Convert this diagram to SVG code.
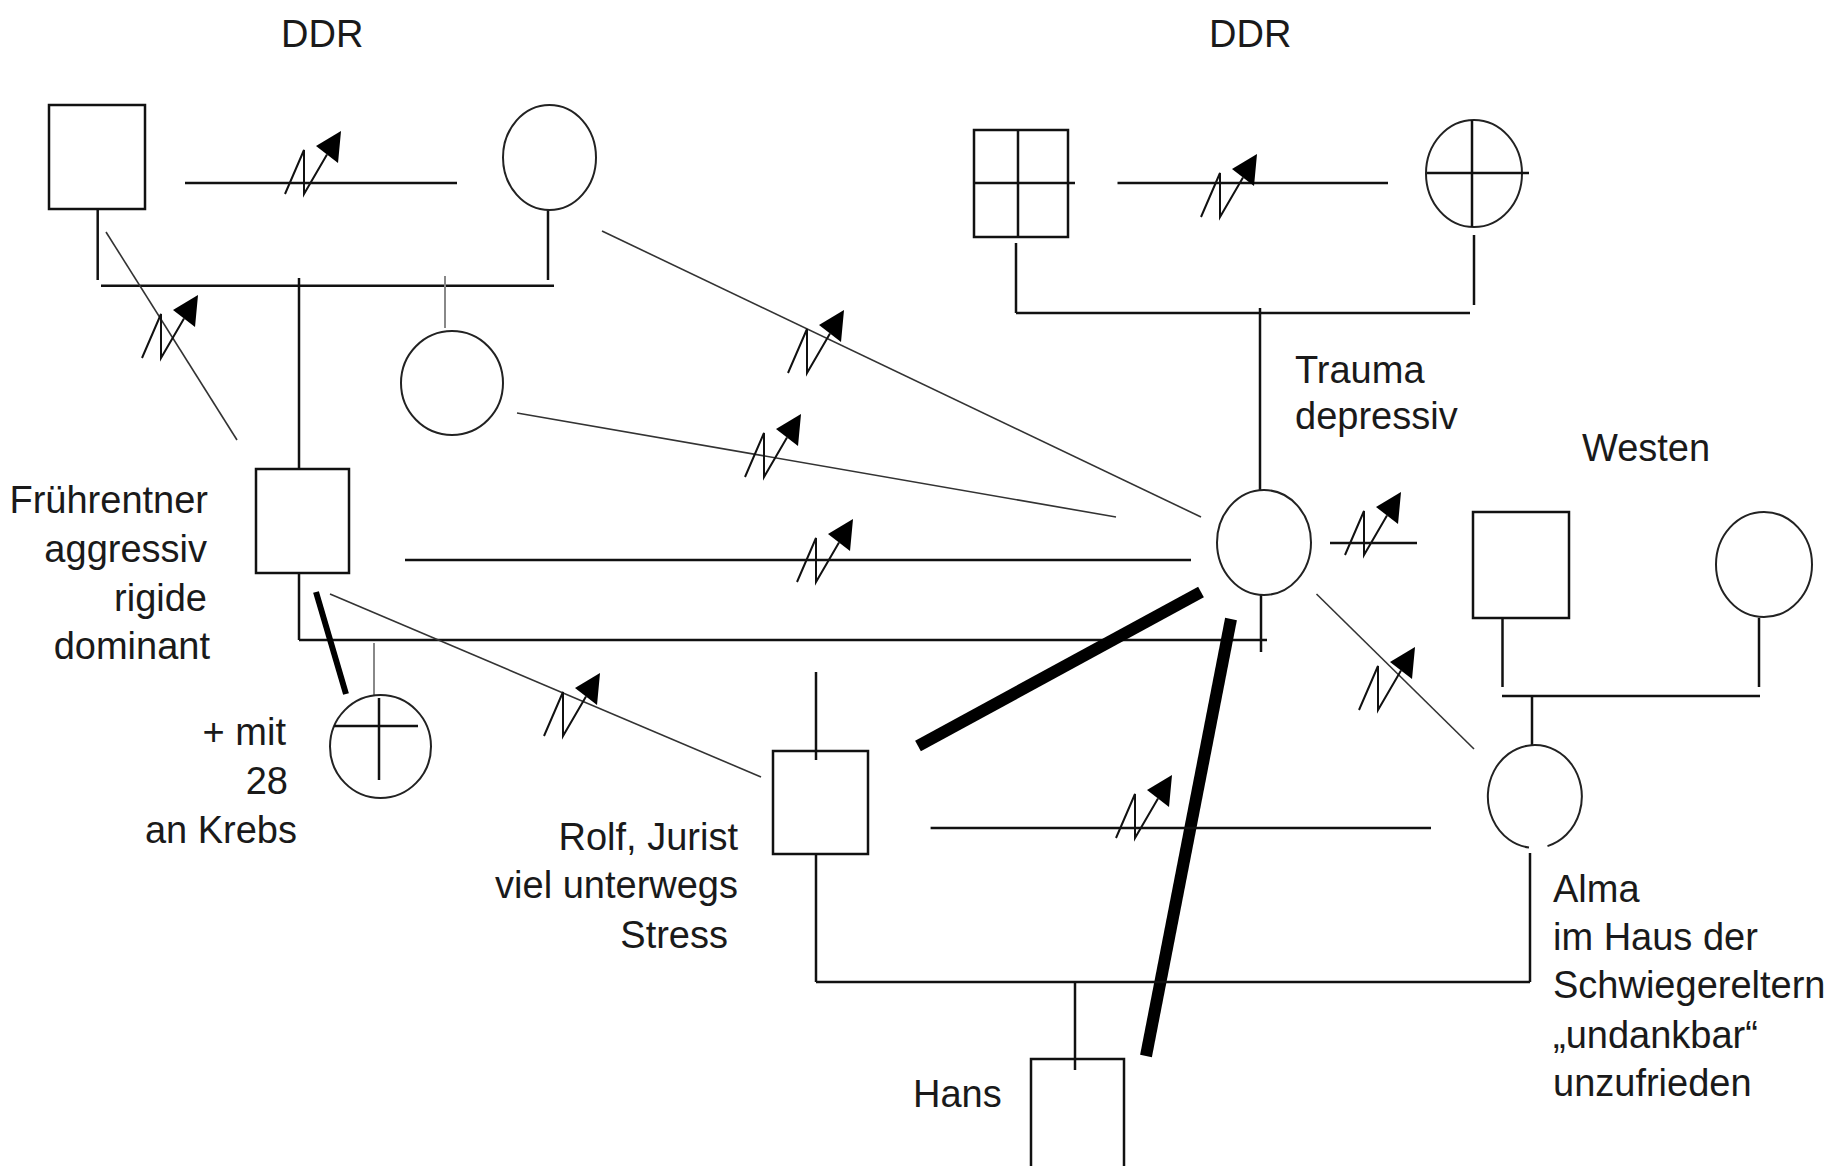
<svg xmlns="http://www.w3.org/2000/svg" xmlns:xlink="http://www.w3.org/1999/xlink" width="1841" height="1166" viewBox="0 0 1841 1166">
<style>
  .ln { stroke: #111; stroke-width: 2.5; fill: none; }
  .thin { stroke: #333; stroke-width: 1.6; fill: none; }
  .gray { stroke: #888; stroke-width: 2; fill: none; }
  .bold { stroke: #000; stroke-width: 12; fill: none; }
  .shape { stroke: #111; stroke-width: 2.5; fill: #fff; }
  .circ { stroke: #222; stroke-width: 2; fill: #fff; }
  .t { font-family: "Liberation Sans", Arial, sans-serif; font-size: 38px; fill: #1a1a1a; }
  .r { text-anchor: end; }
</style>
<defs>
  <g id="z">
    <polyline points="0,0 19,-44 19,0 42,-39.5" fill="none" stroke="#111" stroke-width="2"/>
    <polygon points="56,-63 31,-48 53,-31" fill="#000"/>
  </g>
</defs>
<rect width="1841" height="1166" fill="#fff"/>

<g id="connectors">
  <!-- top-left family -->
  <line class="ln" x1="97.7" y1="209" x2="97.7" y2="280"/>
  <line class="ln" x1="185" y1="183" x2="457" y2="183"/>
  <line class="ln" x1="548" y1="210" x2="548" y2="280"/>
  <line class="ln" x1="101" y1="285.7" x2="554" y2="285.7"/>
  <line class="ln" x1="299" y1="278" x2="299" y2="470"/>
  <line class="gray" x1="445" y1="276" x2="445" y2="328"/>
  <line class="thin" x1="106" y1="232" x2="237" y2="440"/>
  <!-- top-right family -->
  <line class="ln" x1="1117.5" y1="183" x2="1388" y2="183"/>
  <line class="ln" x1="1474" y1="235" x2="1474" y2="305"/>
  <line class="ln" x1="1016" y1="243" x2="1016" y2="313"/>
  <line class="ln" x1="1016" y1="313" x2="1470" y2="313"/>
  <line class="ln" x1="1260" y1="308" x2="1260" y2="500"/>
  <line class="ln" x1="1261" y1="595" x2="1261" y2="652"/>
  <!-- lines to central woman -->
  <line class="thin" x1="602" y1="231" x2="1201" y2="517"/>
  <line class="thin" x1="517" y1="413" x2="1116" y2="517"/>
  <line class="ln" x1="405" y1="560" x2="1191" y2="560"/>
  <line class="ln" x1="299" y1="570" x2="299" y2="640"/>
  <line class="ln" x1="299" y1="640" x2="1267" y2="640"/>
  <line class="bold" x1="918" y1="746" x2="1201" y2="592"/>
  <line class="bold" x1="1231" y1="619" x2="1146" y2="1056"/>
  <line class="ln" x1="1330" y1="543" x2="1417" y2="543"/>
  <line class="thin" x1="1316.5" y1="594" x2="1474" y2="749"/>
  <!-- Frührentner -->
  <line stroke="#000" stroke-width="6" x1="316" y1="592" x2="346" y2="694"/>
  <line class="thin" x1="330" y1="594" x2="761" y2="777"/>
  <line class="gray" x1="374" y1="643" x2="374" y2="695"/>
  <!-- Rolf / Alma / Hans -->
  <line class="ln" x1="816" y1="672" x2="816" y2="760"/>
  <line class="ln" x1="816" y1="854" x2="816" y2="982"/>
  <line class="ln" x1="816" y1="982" x2="1530" y2="982"/>
  <line class="ln" x1="1530" y1="853" x2="1530" y2="982"/>
  <line class="ln" x1="1075" y1="982" x2="1075" y2="1070"/>
  <line class="ln" x1="930.6" y1="828" x2="1431" y2="828"/>
  <!-- West family -->
  <line class="ln" x1="1502.5" y1="618" x2="1502.5" y2="687"/>
  <line class="ln" x1="1759" y1="618" x2="1759" y2="687"/>
  <line class="ln" x1="1502" y1="696" x2="1760" y2="696"/>
  <line class="ln" x1="1532" y1="696" x2="1532" y2="745"/>
  <!-- conflict symbols -->
  <use xlink:href="#z" x="285" y="194"/>
  <use xlink:href="#z" x="142" y="358"/>
  <use xlink:href="#z" x="788" y="373"/>
  <use xlink:href="#z" x="745" y="477"/>
  <use xlink:href="#z" x="797" y="582"/>
  <use xlink:href="#z" x="1116" y="838"/>
  <use xlink:href="#z" x="544" y="736"/>
  <use xlink:href="#z" x="1201" y="217"/>
  <use xlink:href="#z" x="1345" y="555"/>
  <use xlink:href="#z" x="1359" y="710"/>
</g>

<g id="labels">
  <text class="t" x="281" y="47">DDR</text>
  <text class="t" x="1209" y="47">DDR</text>
  <text class="t" x="1295" y="383">Trauma</text>
  <text class="t" x="1295" y="429">depressiv</text>
  <text class="t" x="1582" y="461">Westen</text>
</g>

<g id="grandfather-left">
  <rect class="shape" x="49" y="105" width="96" height="104"/>
</g>
<g id="grandmother-left">
  <ellipse class="circ" cx="549.5" cy="157.5" rx="46.5" ry="52.5"/>
</g>
<g id="aunt">
  <ellipse class="circ" cx="452" cy="383" rx="51" ry="52"/>
</g>
<g id="fruehrentner">
  <rect class="shape" x="256" y="469" width="93" height="104"/>
  <text class="t r" x="208" y="513">Frührentner</text>
  <text class="t r" x="207" y="562">aggressiv</text>
  <text class="t r" x="207" y="611">rigide</text>
  <text class="t r" x="210" y="659">dominant</text>
</g>
<g id="deceased-sister">
  <ellipse class="circ" cx="380.5" cy="746.5" rx="50.5" ry="51.5"/>
  <line class="ln" x1="334" y1="726" x2="418" y2="726"/>
  <line class="ln" x1="379" y1="698" x2="379" y2="780"/>
  <text class="t r" x="286" y="745">+ mit</text>
  <text class="t r" x="288" y="794">28</text>
  <text class="t r" x="297" y="843">an Krebs</text>
</g>
<g id="grandfather-right">
  <rect class="shape" x="974" y="130" width="94" height="107"/>
  <line class="ln" x1="1018" y1="130" x2="1018" y2="237"/>
  <line class="ln" x1="974" y1="183" x2="1075" y2="183"/>
</g>
<g id="grandmother-right">
  <ellipse class="circ" cx="1474" cy="173.5" rx="48" ry="53.5"/>
  <line class="ln" x1="1472" y1="120" x2="1472" y2="227"/>
  <line class="ln" x1="1427" y1="173" x2="1529" y2="173"/>
</g>
<g id="mother">
  <ellipse class="circ" cx="1264" cy="542.5" rx="47" ry="52.5"/>
</g>
<g id="west-father">
  <rect class="shape" x="1473" y="512" width="96" height="106"/>
</g>
<g id="west-mother">
  <ellipse class="circ" cx="1764" cy="564.5" rx="48" ry="52.5"/>
</g>
<g id="rolf">
  <rect class="shape" x="773" y="751" width="95" height="103"/>
  <line class="ln" x1="816" y1="751" x2="816" y2="760"/>
  <text class="t r" x="738" y="850">Rolf, Jurist</text>
  <text class="t r" x="738" y="898">viel unterwegs</text>
  <text class="t r" x="728" y="948">Stress</text>
</g>
<g id="alma">
  <path class="circ" d="M1529,847.6 A47,51.5 0 1 1 1547.5,846.1"/>
  <text class="t" x="1553" y="902">Alma</text>
  <text class="t" x="1553" y="950">im Haus der</text>
  <text class="t" x="1553" y="998">Schwiegereltern</text>
  <text class="t" x="1553" y="1048">„undankbar“</text>
  <text class="t" x="1553" y="1096">unzufrieden</text>
</g>
<g id="hans">
  <rect class="shape" x="1031" y="1059" width="93" height="110"/>
  <line class="ln" x1="1075" y1="1059" x2="1075" y2="1070"/>
  <text class="t" x="913" y="1107">Hans</text>
</g>
</svg>
